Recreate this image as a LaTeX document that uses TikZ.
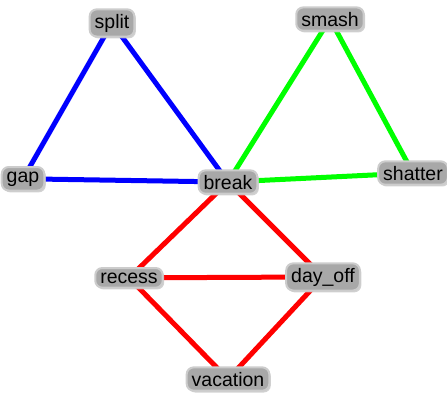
\documentclass[tikz,border=0pt]{standalone}
\usepackage{fontspec}
\setmainfont{Liberation Sans}
\pgfdeclarelayer{edges}
\pgfsetlayers{edges,main}
\tikzset{
  word/.style={
    font=\fontsize{19.5}{19.5}\selectfont, text=black,
    anchor=base, inner xsep=5pt, inner ysep=4.5pt,
    rounded corners=7pt, fill=black!34,
    draw=black!20, line width=2pt,
    preaction={fill=black!22, opacity=0.8,
      transform canvas={shift={(1.5pt,-1.8pt)}}}
  },
  link/.style={line width=5pt},
  bluelink/.style={link, draw={rgb,255:red,0;green,0;blue,255}},
  greenlink/.style={link, draw={rgb,255:red,0;green,255;blue,0}},
  redlink/.style={link, draw={rgb,255:red,255;green,0;blue,0}}
}
\begin{document}
\begin{tikzpicture}[x=1pt,y=-1pt]
  \useasboundingbox (0,0) rectangle (447,392);
  % words
  \node[word] (split)    at (112,28)  {split};
  \node[word] (smash)    at (330,26)  {smash};
  \node[word] (gap)      at (23,182)  {gap};
  \node[word] (break)    at (228,189) {break};
  \node[word] (shatter)  at (413,180) {shatter};
  \node[word] (recess)   at (129,283) {recess};
  \node[word] (dayoff)   at (323,282) {day\_off};
  \node[word] (vacation) at (228,386) {vacation};
  % links between words, behind the labels
  \begin{pgfonlayer}{edges}
    \draw[bluelink] (split.center) -- (gap.center);
    \draw[bluelink] (split.center) -- (break.center);
    \draw[bluelink] (gap.center) -- (break.center);
    \draw[greenlink] (smash.center) -- (break.center);
    \draw[greenlink] (smash.center) -- (shatter.center);
    \draw[greenlink] (break.center) -- (shatter.center);
    \draw[redlink] (break.center) -- (recess.center);
    \draw[redlink] (break.center) -- (dayoff.center);
    \draw[redlink] (recess.center) -- (dayoff.center);
    \draw[redlink] (recess.center) -- (vacation.center);
    \draw[redlink] (dayoff.center) -- (vacation.center);
  \end{pgfonlayer}
\end{tikzpicture}
\end{document}
